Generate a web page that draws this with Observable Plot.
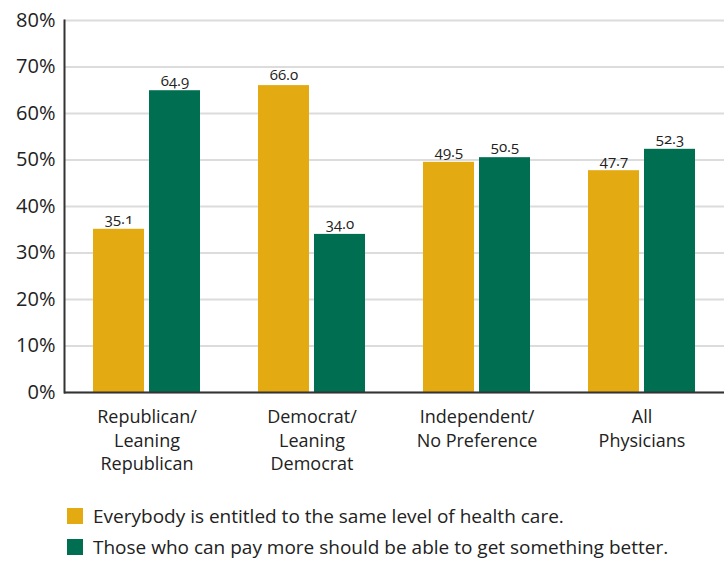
<!DOCTYPE html>
<html>
<head>
<meta charset="utf-8">
<script src="https://cdn.jsdelivr.net/npm/d3@7"></script>
<script src="https://cdn.jsdelivr.net/npm/@observablehq/plot@0.6"></script>
<style>
  html, body { margin: 0; padding: 0; background: #fff; }
  body { width: 725px; font-family: "Open Sans", sans-serif; color: #222; }
  #legend { margin-top: 10px; padding-left: 67px; font-size: 19px; }
  .row { display: flex; align-items: center; height: 31px; }
  .sw { width: 16px; height: 16px; margin-right: 10px; flex: none; }
</style>
</head>
<body>
<div id="chart"></div>
<div id="legend"></div>
<script>
const groups = ["Republican/Leaning Republican", "Democrat/Leaning Democrat", "Independent/No Preference", "All Physicians"];
const groupLabels = ["Republican/\nLeaning\nRepublican", "Democrat/\nLeaning\nDemocrat", "Independent/\nNo Preference", "All\nPhysicians"];
const series = ["Everybody is entitled to the same level of health care.", "Those who can pay more should be able to get something better."];
const everybody = [35.1, 66.0, 49.5, 47.7];
const payMore = [64.9, 34.0, 50.5, 52.3];
const yTicks = [0, 10, 20, 30, 40, 50, 60, 70, 80];
const colors = ["#E4AA12", "#006F51"];

const data = groups.flatMap((g, i) => [
  {group: g, series: series[0], value: everybody[i]},
  {group: g, series: series[1], value: payMore[i]}
]);

const chart = Plot.plot({
  width: 725,
  height: 490,
  marginLeft: 62,
  marginRight: 0,
  marginTop: 20,
  marginBottom: 98,
  style: {fontFamily: "Open Sans", fontVariantNumeric: "oldstyle-nums", color: "#222", background: "#fff"},
  fx: {domain: groups, padding: 0, label: null},
  x: {domain: series, paddingInner: 0.09, paddingOuter: 0.5, axis: null},
  y: {domain: [0, 80], axis: null},
  color: {domain: series, range: colors},
  marks: [
    Plot.gridY(yTicks, {stroke: "#dcdcdc", strokeOpacity: 1, strokeWidth: 2}),
    Plot.barY(data, {fx: "group", x: "series", y: "value", fill: "series"}),
    Plot.text(data, {fx: "group", x: "series", y: "value", text: d => d.value.toFixed(1), dy: -10, fontSize: 15, fill: "#222"}),
    Plot.ruleY([0], {stroke: "#333", strokeWidth: 2}),
    Plot.frame({anchor: "left", facetAnchor: "left", stroke: "#333", strokeWidth: 2}),
    Plot.axisY(yTicks, {label: null, tickFormat: d => d + "%", tickSize: 0, tickPadding: 9, fontSize: 20}),
    Plot.axisFx({anchor: "bottom", tickSize: 0, tickPadding: 14, fontSize: 18, lineHeight: 1.3, label: null,
      tickFormat: d => groupLabels[groups.indexOf(d)]})
  ]
});
document.getElementById("chart").appendChild(chart);

const legend = document.getElementById("legend");
series.forEach((s, i) => {
  const row = document.createElement("div");
  row.className = "row";
  const sw = document.createElement("span");
  sw.className = "sw";
  sw.style.background = colors[i];
  const t = document.createElement("span");
  t.textContent = s;
  row.appendChild(sw);
  row.appendChild(t);
  legend.appendChild(row);
});
</script>
</body>
</html>
